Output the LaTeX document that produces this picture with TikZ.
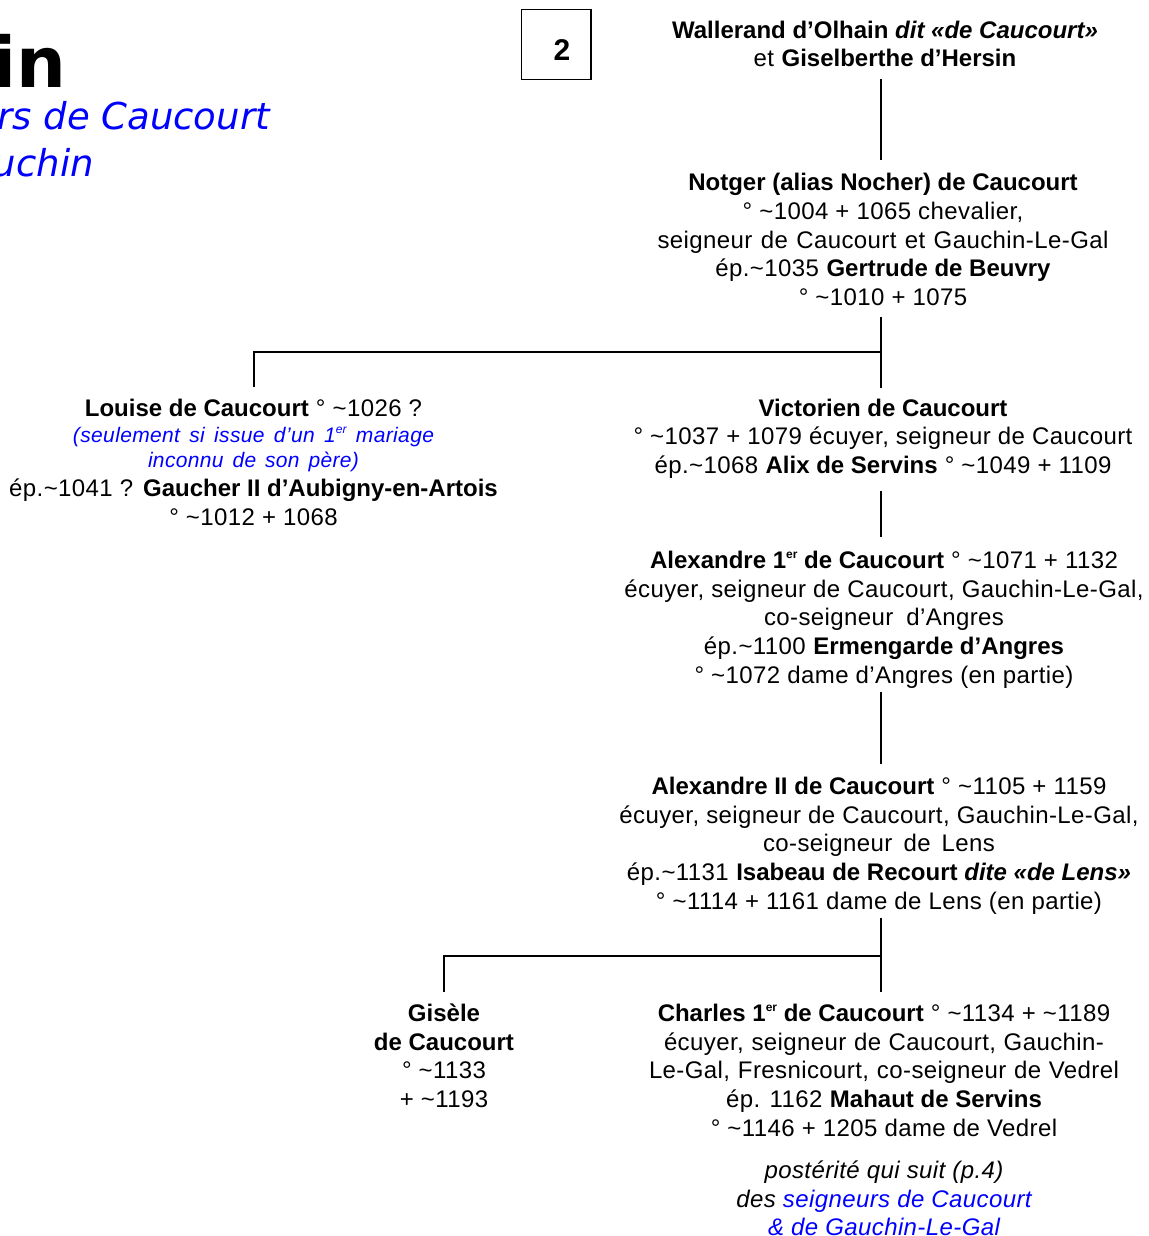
\documentclass[tikz,border=0pt]{standalone}
\usepackage{fontspec}
\setmainfont{Liberation Sans}[UprightFeatures={LetterSpace=1.7},ItalicFeatures={LetterSpace=1.7}]
\newfontfamily\titlefont{DejaVu Sans}[ItalicFont={DejaVu Sans Oblique},BoldFont={DejaVu Sans Bold}]
\newcommand{\tl}{\textasciitilde}
\newcommand{\ersup}{\raisebox{0.42em}{\fontsize{12}{12}\selectfont er}}
\begin{document}
\begin{tikzpicture}[x=1pt,y=-1pt,
  blk/.style={align=center, inner sep=0pt, anchor=north,
    font=\fontsize{24}{28.7}\selectfont,
    execute at begin node=\strut, execute at end node=\strut},
  conn/.style={line width=2.3pt},
  bluei/.style={}]
\useasboundingbox (0,0) rectangle (1148,1236);

% title (cut at the page edge)
\node[font=\titlefont\bfseries\fontsize{70}{80}\selectfont, anchor=base east, inner sep=0pt] (title) at (67,87.3) {in};
\node[font=\titlefont\itshape\fontsize{37}{44}\selectfont, text=blue, anchor=base east, inner sep=0pt] (sub1) at (270,130) {rs de Caucourt};
\node[font=\titlefont\itshape\fontsize{37}{44}\selectfont, text=blue, anchor=base east, inner sep=0pt] (sub2) at (94,176.7) {uchin};

% page number box
\node[draw, line width=1.3pt, minimum width=69.7pt, minimum height=70pt, inner sep=0pt] (pg) at (556.2,44.3) {};
\node[font=\fontsize{30}{34}\selectfont\bfseries, inner sep=0pt] (pgnum) at ([xshift=5.8pt,yshift=-5.7pt]pg.center) {2};

\node[blk] (wal) at (885,20.7) {\textbf{Wallerand d’Olhain \textit{dit «de Caucourt»}}\\ et \textbf{Giselberthe d’Hersin}};

\node[blk] (not) at (883,173.2) {\textbf{Notger (alias Nocher) de Caucourt}\\
  ° \tl1004 + 1065 chevalier,\\
  \makebox[451pt][s]{seigneur de Caucourt et Gauchin-Le-Gal}\\
  ép.\tl1035 \textbf{Gertrude de Beuvry}\\
  ° \tl1010 + 1075};

\node[blk] (lou) at (253.5,398.7) {\textbf{Louise de Caucourt} ° \tl1026 ?\\[-2.7pt]
  \makebox[361pt][s]{\fontsize{21}{25}\selectfont\itshape\color{blue}(seulement si issue d’un 1\ersup{} mariage}\\[-3.2pt]
  \makebox[211pt][s]{\fontsize{21}{25}\selectfont\itshape\color{blue}inconnu de son père)}\\
  ép.\tl1041 ? \textbf{Gaucher II d’Aubigny-en-Artois}\\
  ° \tl1012 + 1068};

\node[blk] (vic) at (883,398.7) {\textbf{Victorien de Caucourt}\\
  ° \tl1037 + 1079 écuyer, seigneur de Caucourt\\
  ép.\tl1068 \textbf{Alix de Servins} ° \tl1049 + 1109};

\node[blk] (a1) at (884,550.9) {\textbf{Alexandre 1\ersup{} de Caucourt} ° \tl1071 + 1132\\
  écuyer, seigneur de Caucourt, Gauchin-Le-Gal,\\
  \makebox[240pt][s]{co-seigneur d’Angres}\\
  ép.\tl1100 \textbf{Ermengarde d’Angres}\\
  ° \tl1072 dame d’Angres (en partie)};

\node[blk] (a2) at (879,776.7) {\textbf{Alexandre II de Caucourt} ° \tl1105 + 1159\\
  écuyer, seigneur de Caucourt, Gauchin-Le-Gal,\\
  \makebox[232pt][s]{co-seigneur de Lens}\\
  ép.\tl1131 \textbf{Isabeau de Recourt \textit{dite «de Lens»}}\\
  ° \tl1114 + 1161 dame de Lens (en partie)};

\node[blk] (gis) at (444,1003.7) {\textbf{Gisèle}\\ \textbf{de Caucourt}\\ ° \tl1133\\ + \tl1193};

\node[blk] (ch) at (884,1003.7) {\textbf{Charles 1\ersup{} de Caucourt} ° \tl1134 + \tl1189\\
  \makebox[440pt][s]{écuyer, seigneur de Caucourt, Gauchin-}\\
  \makebox[470pt][s]{Le-Gal, Fresnicourt, co-seigneur de Vedrel}\\
  ép. 1162 \textbf{Mahaut de Servins}\\
  ° \tl1146 + 1205 dame de Vedrel};

\node[blk, font=\fontsize{24}{28.7}\selectfont\itshape] (post) at (884,1160.7) {postérité qui suit (p.4)\\
  des \textcolor{blue}{seigneurs de Caucourt}\\
  \textcolor{blue}{\& de Gauchin-Le-Gal}};

% connectors
\coordinate (j1) at (881,352);
\coordinate (j2) at (881,956);
\draw[conn] ([xshift=-4pt,yshift=-3.4pt]wal.south) -- ([xshift=-2pt,yshift=13.2pt]not.north);
\draw[conn] ([xshift=-2pt,yshift=-2.1pt]not.south) -- ([xshift=-2pt,yshift=10.7pt]vic.north);
\draw[conn] ([xshift=0.5pt,yshift=11.7pt]lou.north) |- (j1);
\draw[conn] ([xshift=-2pt,yshift=-8.6pt]vic.south) -- ([xshift=-3pt,yshift=13.9pt]a1.north);
\draw[conn] ([xshift=-3pt,yshift=0.4pt]a1.south) -- ([xshift=2pt,yshift=12.7pt]a2.north);
\draw[conn] ([xshift=2pt,yshift=0.4pt]a2.south) -- ([xshift=-3pt,yshift=11.7pt]ch.north);
\draw[conn] ([yshift=11.7pt]gis.north) |- (j2);
\end{tikzpicture}
\end{document}
